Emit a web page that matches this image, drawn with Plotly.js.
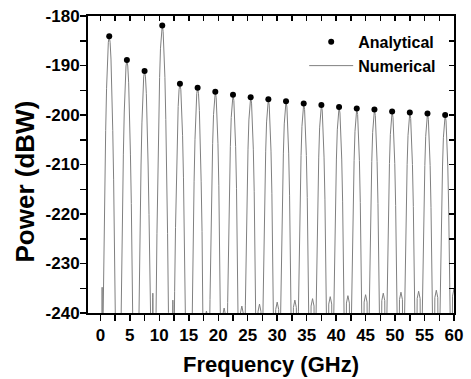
<!DOCTYPE html>
<html>
<head>
<meta charset="utf-8">
<script src="https://cdn.plot.ly/plotly-3.0.1.min.js"></script>
<style>
html,body{margin:0;padding:0;background:#fff;}
#chart{width:471px;height:379px;}
</style>
</head>
<body>
<div id="chart"></div>
<script>
// ---- data ----
const peakX = [1.5, 4.5, 7.5, 10.5, 13.5, 16.5, 19.5, 22.5, 25.5, 28.5,
               31.5, 34.5, 37.5, 40.5, 43.5, 46.5, 49.5, 52.5, 55.5, 58.5];
const analyticalY = [-184.1, -188.9, -191.1, -181.9, -193.7, -194.5, -195.3, -195.9, -196.4, -196.8,
                     -197.2, -197.7, -198.0, -198.4, -198.7, -198.9, -199.3, -199.5, -199.7, -200.0];
const numericalPeakY = [-184.1, -188.9, -191.1, -181.9, -193.7, -194.5, -195.3, -195.9, -196.4, -196.8,
                        -197.2, -197.7, -198.0, -198.4, -198.7, -198.9, -199.3, -199.5, -199.7, -200.0];
// main-lobe profile (offset in GHz, drop below the peak in dB)
const lobeDx   = [-1.05, -0.9, -0.75, -0.6, -0.45, -0.3, -0.15, 0, 0.15, 0.3, 0.45, 0.6, 0.75, 0.9, 1.05];
const lobeDrop = [58, 42, 29, 19, 10.5, 4.6, 1.2, 0, 1.2, 4.6, 10.5, 19, 29, 42, 58];
// small side lobes near the floor
const sideX = [0.3, 8.9, 12.3, 18, 21, 24, 27, 30, 33, 36, 39, 42, 45, 48, 51, 54, 57, 60];
const sideY = [-234.8, -236.0, -237.4, -239.6, -239.0, -238.6, -238.2, -237.8, -237.4, -237.1,
               -236.7, -236.5, -236.3, -236.0, -235.8, -235.6, -235.4, -235.1];
const sideKind = ['spike', 'spike', 'spike', 'lobe', 'lobe', 'lobe', 'lobe', 'lobe', 'lobe', 'lobe',
                  'lobe', 'lobe', 'lobe', 'lobe', 'lobe', 'lobe', 'lobe', 'lobe'];
const sideDx   = {spike: [-0.08, -0.02, 0, 0.02, 0.08], lobe: [-0.4, -0.25, 0, 0.25, 0.4]};
const sideDrop = {spike: [27, 0.8, 0, 0.8, 27], lobe: [27, 1.5, 0, 1.5, 27]};
const seriesNames = ['Analytical', 'Numerical'];
const xTitle = 'Frequency (GHz)';
const yTitle = 'Power (dBW)';
const xTickVals = [0, 5, 10, 15, 20, 25, 30, 35, 40, 45, 50, 55, 60];
const xTickText = ['0', '5', '10', '15', '20', '25', '30', '35', '40', '45', '50', '55', '60'];
const yTickVals = [-240, -230, -220, -210, -200, -190, -180];
const yTickText = ['-240', '-230', '-220', '-210', '-200', '-190', '-180'];

// ---- build the numerical curve from the arrays above ----
const pts = [];
peakX.forEach((x0, i) => {
  lobeDx.forEach((d, j) => pts.push([x0 + d, numericalPeakY[i] - lobeDrop[j]]));
});
sideX.forEach((x0, i) => {
  const k = sideKind[i];
  sideDx[k].forEach((d, j) => pts.push([x0 + d, sideY[i] - sideDrop[k][j]]));
});
pts.sort((a, b) => a[0] - b[0]);
const numX = pts.map(p => p[0]);
const numY = pts.map(p => p[1]);

const FONT = 'Liberation Sans, Arial, Helvetica, sans-serif';
const b = s => '<b>' + s + '</b>';

const traces = [
  {
    x: numX, y: numY, type: 'scatter', mode: 'lines', name: b(seriesNames[1]),
    line: {color: '#808080', width: 1}, legendrank: 2, legendgroup: 'b', hoverinfo: 'skip'
  },
  {
    x: peakX, y: analyticalY, type: 'scatter', mode: 'markers', name: b(seriesNames[0]),
    marker: {color: '#000', size: 6}, legendrank: 1, legendgroup: 'a', hoverinfo: 'skip'
  },
  {
    // invisible copy that makes the mirrored top/right axes draw
    x: peakX, y: analyticalY, xaxis: 'x2', yaxis: 'y2', type: 'scatter', mode: 'markers',
    marker: {opacity: 0}, showlegend: false, hoverinfo: 'skip'
  }
];

const axFont = {family: FONT, size: 17, color: '#000'};

const layout = {
  width: 471, height: 379,
  margin: {l: 88, r: 17, t: 16, b: 66},
  paper_bgcolor: '#fff', plot_bgcolor: '#fff',
  showlegend: true,
  legend: {
    x: 0.965, xanchor: 'right', y: 0.97, yanchor: 'top',
    bgcolor: 'rgba(0,0,0,0)', borderwidth: 0,
    font: {family: FONT, size: 16, color: '#000'},
    tracegroupgap: 0, itemwidth: 44
  },
  xaxis: {
    range: [-2.1, 60], showgrid: false, zeroline: false,
    showline: true, linecolor: '#000', linewidth: 2,
    ticks: 'outside', ticklen: 6, tickwidth: 1.5, tickcolor: '#000',
    tickvals: xTickVals, ticktext: xTickText.map(b),
    minor: {dtick: 2.5, tick0: 0, ticks: 'outside', ticklen: 6, tickwidth: 1.5, tickcolor: '#000', showgrid: false},
    tickfont: axFont,
    title: {text: b(xTitle), font: {family: FONT, size: 22, color: '#000'}, standoff: 12}
  },
  yaxis: {
    range: [-240, -180], showgrid: false, zeroline: false,
    showline: true, linecolor: '#000', linewidth: 2,
    ticks: 'outside', ticklen: 6, tickwidth: 1.5, tickcolor: '#000',
    tickvals: yTickVals, ticktext: yTickText.map(b),
    minor: {dtick: 5, tick0: 0, ticks: 'outside', ticklen: 6, tickwidth: 1.5, tickcolor: '#000', showgrid: false},
    tickfont: axFont, ticklabelstandoff: -3
  },
  xaxis2: {
    overlaying: 'x', matches: 'x', side: 'top', anchor: 'y',
    range: [-2.1, 60], showgrid: false, zeroline: false,
    showline: true, linecolor: '#000', linewidth: 2,
    ticks: 'inside', ticklen: 5, tickwidth: 1.5, tickcolor: '#000',
    dtick: 2.5, tick0: 0, showticklabels: false
  },
  yaxis2: {
    overlaying: 'y', matches: 'y', side: 'right', anchor: 'x',
    range: [-240, -180], showgrid: false, zeroline: false,
    showline: true, linecolor: '#000', linewidth: 2,
    ticks: 'inside', ticklen: 5, tickwidth: 1.5, tickcolor: '#000',
    dtick: 5, tick0: 0, showticklabels: false
  },
  annotations: [{
    text: b(yTitle), textangle: -90, showarrow: false,
    xref: 'paper', yref: 'paper', x: -0.172, y: 0.443, xanchor: 'center', yanchor: 'middle',
    font: {family: FONT, size: 26, color: '#000'}
  }]
};

Plotly.newPlot('chart', traces, layout, {displayModeBar: false, staticPlot: true});
</script>
</body>
</html>
